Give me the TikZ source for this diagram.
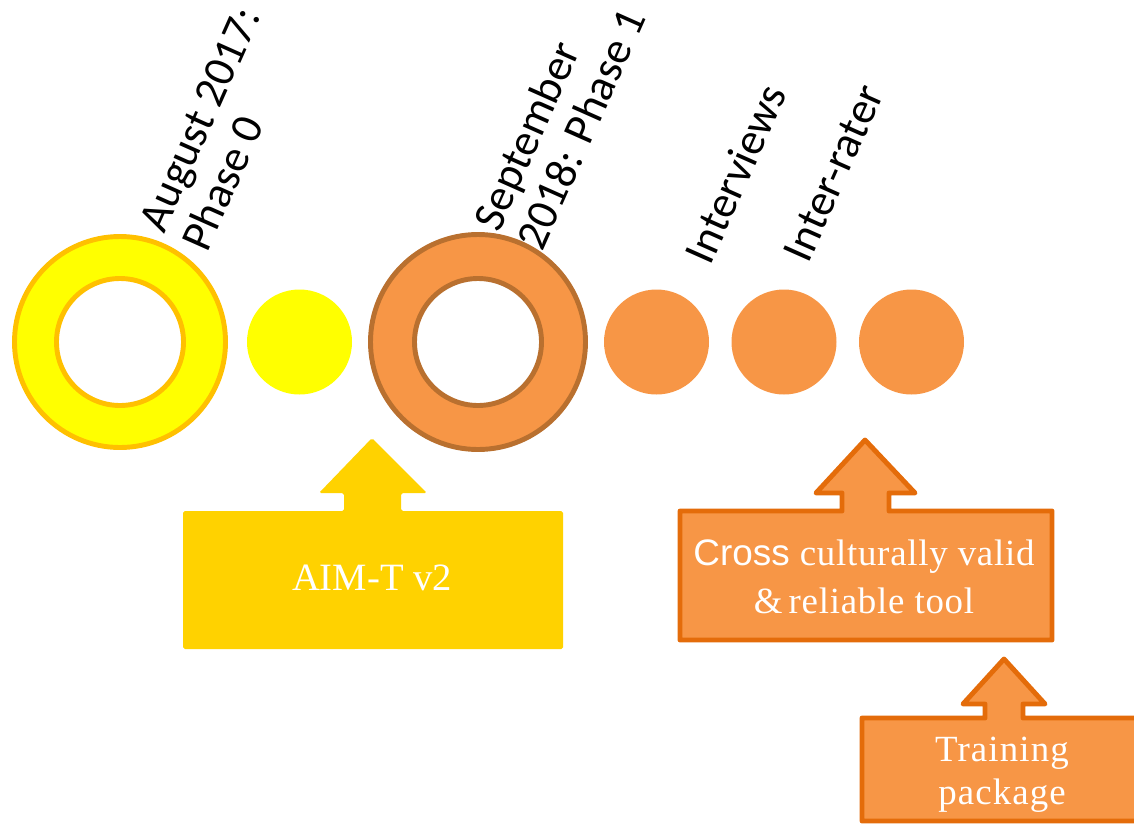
\documentclass[tikz,border=0pt]{standalone}
\usepackage{fontspec}
\setmainfont{Liberation Serif}
\newfontfamily\labelfont{Carlito}
\newfontfamily\crossfont{Liberation Sans}
\definecolor{ringyellow}{HTML}{FFFF00}
\definecolor{ringgold}{HTML}{FFC000}
\definecolor{boxyellow}{HTML}{FFD200}
\definecolor{ringorange}{HTML}{F79646}
\definecolor{ringbrown}{HTML}{B9702F}
\definecolor{boxedge}{HTML}{E46C0A}
\tikzset{
  ring/.style={circle, inner sep=0pt, line width=2.8pt},
  dot/.style={circle, inner sep=0pt, minimum size=21mm},
  milestone/.style={rotate=66, anchor=south west, inner sep=0pt, align=left,
    font=\labelfont\fontsize{25.5}{27}\selectfont},
  calloutbox/.style={line width=2.8pt, line join=round},
  callouttext/.style={text=white, align=center, inner sep=0pt}
}
\begin{document}
\begin{tikzpicture}[x=0.2mm, y=-0.2mm]
    \clip (0,0) rectangle (1134,825);
    % Phase 0
    \node[ring, draw=ringgold, fill=ringyellow, minimum size=42.2mm] (phase0) at (120,342) {};
    \node[ring, draw=ringgold, fill=white, minimum size=25.4mm] (phase0in) at (phase0) {};
    \node[dot, fill=ringyellow] (aimdot) at (299.5,342) {};
    % Phase 1
    \node[ring, draw=ringbrown, fill=ringorange, minimum size=43mm] (phase1) at (478,342) {};
    \node[ring, draw=ringbrown, fill=white, minimum size=25.4mm] (phase1in) at (phase1) {};
    \node[dot, fill=ringorange] (interviews) at (656.5,342) {};
    \node[dot, fill=ringorange] (interrater) at (784,342) {};
    \node[dot, fill=ringorange] (tooldot) at (911.5,342) {};
    % labels
    \node[milestone] (lbl0) at (208,254) {August 2017:\\Phase 0};
    \node[milestone] (lbl1) at (543,253) {September\\2018: Phase 1};
    \node[milestone] (lbl2) at (711,267) {Interviews};
    \node[milestone] (lbl3) at (809,265) {Inter-rater};
    % callouts
    \fill[boxyellow, rounded corners=1pt] (183,511) -- (344,511) -- (344,493) -- (319,493) -- (372,438)
        -- (427,493) -- (401,493) -- (401,511) -- (563,511) -- (563,649) -- (183,649) -- cycle;
    \node[callouttext, font=\fontsize{22}{26}\selectfont] (aimt) at (372,578) {AIM-T v2};
    \draw[calloutbox, draw=boxedge, fill=ringorange] (680,511) -- (842,511) -- (842,493) -- (816,493) -- (865,440)
        -- (915,493) -- (889,493) -- (889,511) -- (1052,511) -- (1052,640) -- (680,640) -- cycle;
    \node[callouttext, font=\addfontfeature{LetterSpace=2}\fontsize{21}{27}\selectfont] (crosstool) at (864,577)
        {{\crossfont Cross} culturally valid\\\&\,reliable tool};
    \draw[calloutbox, draw=boxedge, fill=ringorange] (862,718) -- (985,718) -- (985,704) -- (963,704) -- (1004,659)
        -- (1045,704) -- (1023,704) -- (1023,718) -- (1150,718) -- (1150,821) -- (862,821) -- cycle;
    \node[callouttext, font=\addfontfeature{LetterSpace=3}\fontsize{21}{24.5}\selectfont] (training) at (1002,775)
        {Training\\package};
\end{tikzpicture}
\end{document}
